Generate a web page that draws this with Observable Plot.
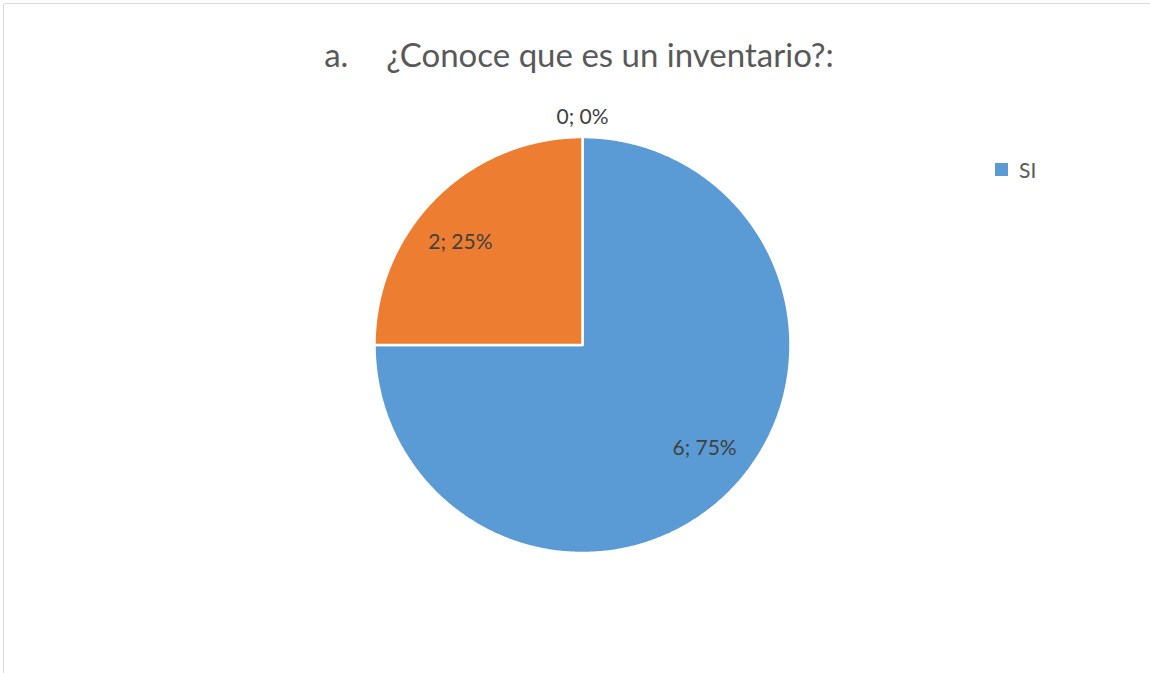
<!DOCTYPE html>
<html><head><meta charset="utf-8">
<script src="https://cdn.jsdelivr.net/npm/d3@7"></script>
<script src="https://cdn.jsdelivr.net/npm/@observablehq/plot@0.6"></script>
<style>
html,body{margin:0;padding:0;background:#fff;overflow:hidden}
#wrap{position:relative;width:1150px;height:673px;overflow:hidden;font-family:Lato,"Open Sans",sans-serif}
#frame{position:absolute;left:3px;top:3px;width:1200px;height:720px;border:1px solid #d9d9d9;border-radius:2px;box-sizing:border-box}
#title{position:relative;height:90px;width:1158px;text-align:center;font-size:33px;color:#595959;line-height:108px;white-space:pre;overflow:visible}
#title .num{display:inline-block;width:62px;text-align:left}
#chart{position:relative}
#legend{position:absolute;left:995px;top:157px;display:flex;align-items:center;font-size:21px;color:#595959}
#legend .sw{width:13px;height:13px;margin-right:11px}
</style></head>
<body>
<div id="wrap">
  <div id="frame"></div>
  <div id="title"><span class="num">a.</span>¿Conoce que es un inventario?:</div>
  <div id="chart"></div>
  <div id="legend"></div>
</div>
<script>
const categories = ["SI", "NO", "OTRO"];
const values = [6, 2, 0];
const colors = ["#5B9BD5", "#ED7D31", "#A5A5A5"];
const legendCategories = ["SI"];

const total = d3.sum(values);
const data = categories.map((c, i) => ({category: c, value: values[i]}));
const arcs = d3.pie().sort(null).value(d => d.value)(data);

// polygon points for each slice (angles clockwise from 12 o'clock)
const poly = [];
arcs.forEach(a => {
  if (a.endAngle - a.startAngle <= 0) return;
  const c = a.data.category;
  poly.push({category: c, x: 0, y: 0});
  const n = Math.max(2, Math.ceil((a.endAngle - a.startAngle) / (Math.PI / 360)));
  for (let k = 0; k <= n; k++) {
    const t = a.startAngle + (a.endAngle - a.startAngle) * k / n;
    poly.push({category: c, x: Math.sin(t), y: Math.cos(t)});
  }
  poly.push({category: c, x: 0, y: 0});
});

const labels = arcs.map(a => {
  const m = (a.startAngle + a.endAngle) / 2;
  const inside = a.data.value > 0;
  return {
    x: (inside ? 0.83 : 1.094) * Math.sin(m),
    y: (inside ? 0.70 : 1.094) * Math.cos(m),
    text: `${a.data.value}; ${Math.round(a.data.value / total * 100)}%`
  };
});

const W = 1150, H = 583, R = 208, CX = 582, CY = 254.5;
const plot = Plot.plot({
  width: W, height: H,
  margin: 0,
  style: {background: "transparent", overflow: "visible"},
  x: {domain: [-CX / R, (W - CX) / R], axis: null},
  y: {domain: [-(H - CY) / R, CY / R], axis: null},
  color: {domain: categories, range: colors},
  marks: [
    Plot.line(poly, {x: "x", y: "y", z: "category", fill: "category", stroke: "#fff", strokeWidth: 2.5, strokeLinejoin: "miter", curve: "linear"}),
    Plot.text(labels, {x: "x", y: "y", text: "text", fill: "#404040", fontSize: 21, fontFamily: "Lato", textAnchor: "middle"})
  ]
});
document.getElementById("chart").appendChild(plot);

const leg = document.getElementById("legend");
legendCategories.forEach(c => {
  const sw = document.createElement("span");
  sw.className = "sw";
  sw.style.background = colors[categories.indexOf(c)];
  const t = document.createElement("span");
  t.textContent = c;
  leg.appendChild(sw); leg.appendChild(t);
});
</script>
</body></html>
